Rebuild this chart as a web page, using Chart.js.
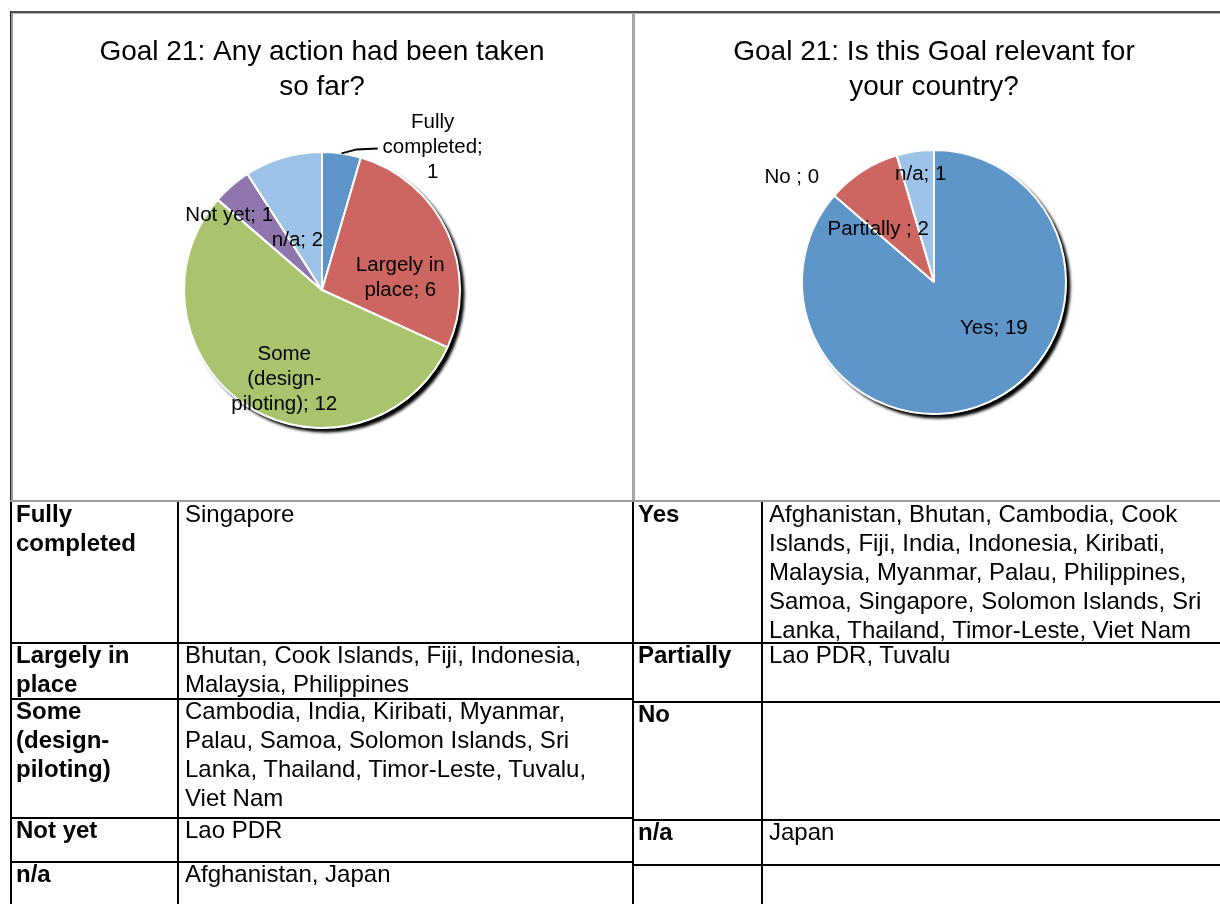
<!DOCTYPE html>
<html><head><meta charset="utf-8">
<script src="https://cdn.jsdelivr.net/npm/chart.js@4.4.1/dist/chart.umd.min.js"></script>
<style>
html,body{margin:0;padding:0;background:#fff;overflow:hidden;width:1220px;height:904px;}
body{position:relative;font-family:'Liberation Sans',Arial,sans-serif;}
.ln{position:absolute;}
.cell{position:absolute;font-size:24px;line-height:29px;color:#000;white-space:nowrap;}
.b{font-weight:bold;}
canvas{position:absolute;}
</style></head>
<body>
<canvas id="c1" width="620" height="487" style="left:12px;top:13px"></canvas>
<canvas id="c2" width="600" height="487" style="left:634px;top:13px"></canvas>
<div id="grid"></div>
<script>
// ---- Chart data ----
const actionCategories = ['Fully completed', 'Largely in place', 'Some (design-piloting)', 'Not yet', 'n/a'];
const actionCounts = [1, 6, 12, 1, 2];
const actionLabelWrap = [['Fully', 'completed;', '{v}'], ['Largely in', 'place; {v}'], ['Some', '(design-', 'piloting); {v}'], ['Not yet; {v}'], ['n/a; {v}']];
const actionColors = ['#5F96CA', '#CD6661', '#AAC46E', '#8F76AF', '#9EC3E8'];

const relevanceCategories = ['Yes', 'Partially', 'No', 'n/a'];
const relevanceCounts = [19, 2, 0, 1];
const relevanceLabelWrap = [['Yes; {v}'], ['Partially ; {v}'], ['No ; {v}'], ['n/a; {v}']];
const relevanceColors = ['#5F96CA', '#CD6661', '#AAC46E', '#9EC3E8'];

const actionTitle = ['Goal 21: Any action had been taken', 'so far?'];
const relevanceTitle = ['Goal 21: Is this Goal relevant for', 'your country?'];

// ---- Table text ----
const leftLabels = [['Fully', 'completed'], ['Largely in', 'place'], ['Some', '(design-', 'piloting)'], ['Not yet'], ['n/a']];
const leftCountries = [
  ['Singapore'],
  ['Bhutan, Cook Islands, Fiji, Indonesia,', 'Malaysia, Philippines'],
  ['Cambodia, India, Kiribati, Myanmar,', 'Palau, Samoa, Solomon Islands, Sri', 'Lanka, Thailand, Timor-Leste, Tuvalu,', 'Viet Nam'],
  ['Lao PDR'],
  ['Afghanistan, Japan']
];
const rightLabels = [['Yes'], ['Partially'], ['No'], ['n/a'], []];
const rightCountries = [
  ['Afghanistan, Bhutan, Cambodia, Cook', 'Islands, Fiji, India, Indonesia, Kiribati,', 'Malaysia, Myanmar, Palau, Philippines,', 'Samoa, Singapore, Solomon Islands, Sri', 'Lanka, Thailand, Timor-Leste, Viet Nam'],
  ['Lao PDR, Tuvalu'],
  [],
  ['Japan'],
  []
];

const FONT = "'Liberation Sans', Arial, sans-serif";
Chart.defaults.font.family = FONT;
Chart.defaults.color = '#000';

const sliceLabels = {
  id: 'sliceLabels',
  beforeDatasetsDraw(chart) {
    const el = chart.getDatasetMeta(0).data[0];
    const p = el.getProps(['x', 'y', 'outerRadius'], true);
    const ctx = chart.ctx;
    ctx.save();
    ctx.shadowColor = 'rgba(0,0,0,1)';
    ctx.shadowBlur = 3;
    ctx.shadowOffsetX = 4;
    ctx.shadowOffsetY = 4;
    ctx.fillStyle = '#fff';
    ctx.beginPath();
    ctx.arc(p.x, p.y, p.outerRadius + 0.5, 0, Math.PI * 2);
    ctx.fill();
    ctx.restore();
  },
  afterDatasetsDraw(chart, args, opts) {
    const ctx = chart.ctx;
    const meta = chart.getDatasetMeta(0);
    const vals = chart.data.datasets[0].data;
    ctx.save();
    ctx.font = opts.fontSize + 'px ' + FONT;
    ctx.fillStyle = '#000';
    ctx.textAlign = 'center';
    ctx.textBaseline = 'middle';
    meta.data.forEach((el, i) => {
      const p = el.getProps(['x', 'y', 'startAngle', 'endAngle', 'outerRadius'], true);
      const pl = opts.place[i];
      const mid = (p.startAngle + p.endAngle) / 2;
      const ax = p.x + Math.cos(mid) * p.outerRadius * pl.f;
      const ay = p.y + Math.sin(mid) * p.outerRadius * pl.f;
      const lines = opts.wrap[i].map(s => s.replace('{v}', vals[i]));
      const tx = ax + pl.dx, ty = ay + pl.dy;
      const lh = opts.lineHeight;
      const top = ty - (lines.length - 1) * lh / 2;
      lines.forEach((s, k) => ctx.fillText(s, tx, top + k * lh));
      if (pl.leader) {
        ctx.beginPath();
        ctx.moveTo(ax, ay);
        pl.leader.forEach(q => ctx.lineTo(ax + q[0], ay + q[1]));
        ctx.lineWidth = 2;
        ctx.strokeStyle = '#000';
        ctx.stroke();
      }
    });
    ctx.restore();
  }
};

function makePie(id, labels, data, colors, title, wrap, place, radius, padBottom) {
  return new Chart(document.getElementById(id), {
    type: 'pie',
    data: { labels, datasets: [{ data, backgroundColor: colors, borderColor: '#fff', borderWidth: 2, radius }] },
    options: {
      responsive: false,
      animation: false,
      layout: { padding: { top: 0, left: 0, right: 0, bottom: padBottom } },
      plugins: {
        legend: { display: false },
        tooltip: { enabled: false },
        title: { display: true, text: title, color: '#000', font: { size: 28, weight: 'normal', lineHeight: 1.25 }, padding: { top: 21.5, bottom: 0 } },
        sliceLabels: { wrap, place, fontSize: 20.5, lineHeight: 25 }
      }
    },
    plugins: [sliceLabels]
  });
}

makePie('c1', actionCategories, actionCounts, actionColors, actionTitle, actionLabelWrap, [
  { f: 1.0, dx: 91, dy: -6, leader: [[15, -4], [36, -5]] },
  { f: 0.6, dx: 3, dy: 22 },
  { f: 0.6, dx: 7, dy: 20 },
  { f: 0.75, dx: -25, dy: 4 },
  { f: 0.4, dx: -9, dy: 3 }
], 138, 24.5);

makePie('c2', relevanceCategories, relevanceCounts, relevanceColors, relevanceTitle, relevanceLabelWrap, [
  { f: 0.6, dx: 27, dy: -26 },
  { f: 0.6, dx: -13, dy: 14 },
  { f: 1.0, dx: -105, dy: 22 },
  { f: 0.6, dx: -2, dy: -29 }
], 132, 40.5);

// ---- Frame & table ----
const grid = document.getElementById('grid');
function line(x, y, w, h, c) {
  const d = document.createElement('div');
  d.className = 'ln';
  d.style.cssText = `left:${x}px;top:${y}px;width:${w}px;height:${h}px;background:${c}`;
  grid.appendChild(d);
}
function cell(x, y, lines, bold) {
  const d = document.createElement('div');
  d.className = 'cell' + (bold ? ' b' : '');
  d.style.left = x + 'px';
  d.style.top = y + 'px';
  d.innerHTML = lines.map(s => s.replace(/&/g, '&amp;')).join('<br>');
  grid.appendChild(d);
}
// chart frame
line(10, 11, 1210, 2, '#505050');
line(12, 13, 1208, 1, '#b8b8b8');
line(10, 11, 1, 491, '#202020');
line(11, 13, 2, 489, '#9a9a9a');
line(632, 13, 3, 489, '#a8a8a8');
line(10, 500, 1210, 2, '#9a9a9a');
// table
const leftTops = [502, 643, 699, 818, 862];
const rightTops = [502, 643, 702, 820, 865];
line(10, 502, 2, 402, '#000');
line(177, 502, 2, 402, '#000');
line(632, 502, 2, 402, '#000');
line(761, 502, 2, 402, '#000');
leftTops.slice(1).forEach(t => line(10, t - 1, 624, 2, '#000'));
rightTops.slice(1).forEach(t => line(632, t - 1, 588, 2, '#000'));
leftTops.forEach((t, i) => {
  cell(16, t - 3, leftLabels[i], true);
  cell(185, t - 3, leftCountries[i], false);
});
rightTops.forEach((t, i) => {
  cell(638, t - 3, rightLabels[i], true);
  cell(769, t - 3, rightCountries[i], false);
});
</script>
</body></html>
